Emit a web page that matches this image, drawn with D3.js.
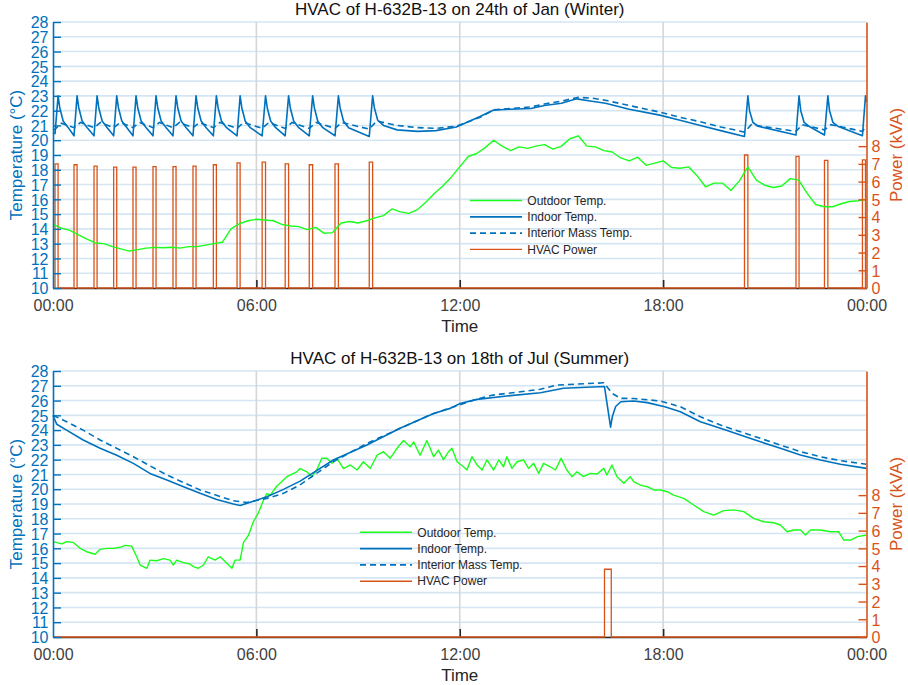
<!DOCTYPE html>
<html>
<head>
<meta charset="utf-8">
<script src="https://cdn.jsdelivr.net/npm/d3@7"></script>
<style>
  body { margin: 0; background: #fff; }
  svg { display: block; font-family: "Liberation Sans", Arial, Helvetica, sans-serif; }
</style>
</head>
<body>
<svg id="chart" width="908" height="685"></svg>
<script>
// ---- data (hours since midnight, °C / kVA) ----
const tempTicks = [10, 11, 12, 13, 14, 15, 16, 17, 18, 19, 20, 21, 22, 23, 24, 25, 26, 27, 28];
const powerTicks = [0, 1, 2, 3, 4, 5, 6, 7, 8];
const timeTicks = [0, 6, 12, 18, 24];
const timeLabels = ["00:00", "06:00", "12:00", "18:00", "00:00"];
const legendLabels = ["Outdoor Temp.", "Indoor Temp.", "Interior Mass Temp.", "HVAC Power"];

// winter day (24th of Jan)
const winterOutdoor = [
  [0, 14.3], [0.25, 14.05], [0.5, 13.9], [0.75, 13.6], [1, 13.3], [1.25, 13.05], [1.5, 13.0], [1.75, 12.8],
  [2, 12.65], [2.25, 12.5], [2.5, 12.6], [2.75, 12.7], [3, 12.75], [3.25, 12.72], [3.5, 12.76], [3.75, 12.7],
  [4, 12.8], [4.25, 12.8], [4.5, 12.9], [4.75, 13.0], [5, 13.1], [5.25, 14.0], [5.5, 14.35], [5.75, 14.55],
  [6, 14.65], [6.25, 14.6], [6.5, 14.55], [6.75, 14.3], [7, 14.2], [7.25, 14.15], [7.5, 13.95], [7.75, 14.1],
  [8, 13.7], [8.25, 13.75], [8.5, 14.4], [8.75, 14.5], [9, 14.4], [9.25, 14.55], [9.5, 14.75], [9.75, 14.9],
  [10, 15.35], [10.25, 15.15], [10.5, 15.05], [10.75, 15.3], [11, 15.8], [11.25, 16.4], [11.5, 16.9], [11.75, 17.5],
  [12, 18.2], [12.25, 18.9], [12.5, 19.1], [12.75, 19.5], [13, 20.0], [13.25, 19.6], [13.5, 19.3], [13.75, 19.55],
  [14, 19.45], [14.25, 19.6], [14.5, 19.7], [14.75, 19.4], [15, 19.6], [15.25, 20.1], [15.5, 20.3], [15.75, 19.6],
  [16, 19.55], [16.25, 19.3], [16.5, 19.2], [16.75, 18.8], [17, 18.6], [17.25, 18.85], [17.5, 18.3], [17.75, 18.45],
  [18, 18.6], [18.25, 18.15], [18.5, 18.1], [18.75, 18.2], [19, 17.6], [19.25, 16.85], [19.5, 17.1], [19.75, 17.1],
  [20, 16.6], [20.25, 17.25], [20.5, 18.2], [20.75, 17.3], [21, 16.95], [21.25, 16.8], [21.5, 16.9], [21.75, 17.4],
  [22, 17.3], [22.25, 16.4], [22.5, 15.65], [22.75, 15.5], [23, 15.5], [23.25, 15.7], [23.5, 15.85], [23.75, 15.9],
  [24, 16.0]
];
const winterIndoor = [
  [0, 20.5], [0.06, 20.45], [0.15, 23.0], [0.2, 22.2], [0.3, 21.3], [0.45, 20.85],
  [0.62, 20.3], [0.71, 23.0], [0.76, 22.2], [0.86, 21.3], [1.01, 20.85],
  [1.21, 20.3], [1.30, 23.0], [1.35, 22.2], [1.45, 21.3], [1.6, 20.85],
  [1.79, 20.3], [1.88, 23.0], [1.93, 22.2], [2.03, 21.3], [2.18, 20.85],
  [2.36, 20.3], [2.45, 23.0], [2.5, 22.2], [2.6, 21.3], [2.75, 20.85],
  [2.95, 20.3], [3.04, 23.0], [3.09, 22.2], [3.19, 21.3], [3.34, 20.85],
  [3.54, 20.3], [3.63, 23.0], [3.68, 22.2], [3.78, 21.3], [3.93, 20.85],
  [4.13, 20.3], [4.22, 23.0], [4.27, 22.2], [4.37, 21.3], [4.52, 20.85],
  [4.73, 20.3], [4.82, 23.0], [4.87, 22.2], [4.97, 21.3], [5.12, 20.85],
  [5.43, 20.3], [5.52, 23.0], [5.57, 22.2], [5.67, 21.3], [5.82, 20.85],
  [6.17, 20.3], [6.27, 23.0], [6.32, 22.2], [6.42, 21.3], [6.57, 20.85],
  [6.85, 20.3], [6.95, 23.0], [7.0, 22.2], [7.1, 21.3], [7.25, 20.85],
  [7.56, 20.3], [7.66, 23.0], [7.71, 22.2], [7.81, 21.3], [7.96, 20.85],
  [8.32, 20.3], [8.42, 23.0], [8.47, 22.2], [8.57, 21.3], [8.72, 20.85],
  [9.33, 20.25], [9.43, 23.0], [9.48, 22.2], [9.58, 21.35], [9.75, 21.0], [10.15, 20.7], [10.75, 20.6],
  [11.3, 20.65], [11.9, 20.9], [12.6, 21.6], [13.0, 22.05], [13.5, 22.1], [14.1, 22.15], [14.5, 22.35],
  [15.0, 22.5], [15.45, 22.8], [15.85, 22.65], [16.3, 22.5], [17.0, 22.1], [17.9, 21.7], [18.5, 21.35],
  [19.1, 21.0], [19.7, 20.65], [20.40, 20.25], [20.50, 23.0], [20.55, 22.0], [20.65, 21.2], [20.8, 20.95],
  [21.92, 20.35], [22.01, 23.0], [22.06, 22.0], [22.16, 21.2], [22.3, 20.95],
  [22.76, 20.35], [22.86, 23.0], [22.91, 22.0], [23.01, 21.2], [23.15, 20.95],
  [23.88, 20.3], [23.97, 23.0], [24, 22.6]
];
const winterMass = [
  [0, 20.7], [0.06, 20.75], [0.25, 21.15], [0.62, 20.85], [0.81, 21.2], [1.21, 20.85], [1.40, 21.2],
  [1.79, 20.85], [1.98, 21.2], [2.36, 20.85], [2.55, 21.2], [2.95, 20.85], [3.14, 21.2], [3.54, 20.85],
  [3.73, 21.2], [4.13, 20.85], [4.32, 21.2], [4.73, 20.85], [4.92, 21.2], [5.43, 20.8], [5.62, 21.2],
  [6.17, 20.8], [6.37, 21.2], [6.85, 20.8], [7.05, 21.2], [7.56, 20.8], [7.76, 21.2], [8.32, 20.8],
  [8.52, 21.2], [9.33, 20.75], [9.55, 21.3], [10.15, 21.0], [10.75, 20.85], [11.3, 20.8], [11.9, 20.95],
  [12.6, 21.55], [13.0, 22.05], [13.5, 22.15], [14.1, 22.25], [14.5, 22.45], [15.0, 22.65], [15.5, 22.9],
  [15.9, 22.85], [16.3, 22.7], [17.0, 22.35], [17.9, 21.9], [18.5, 21.55], [19.1, 21.25], [19.7, 20.9],
  [20.40, 20.55], [20.6, 21.05], [21.92, 20.6], [22.1, 21.05], [22.76, 20.7], [22.95, 21.05],
  [23.88, 20.6], [24, 20.95]
];
const winterHvacOn  = [0.06, 0.62, 1.21, 1.79, 2.36, 2.95, 3.54, 4.13, 4.73, 5.43, 6.17, 6.85, 7.56, 8.32, 9.33, 20.40, 21.92, 22.76, 23.88];
const winterHvacOff = [0.15, 0.71, 1.30, 1.88, 2.45, 3.04, 3.63, 4.22, 4.82, 5.52, 6.27, 6.95, 7.66, 8.42, 9.43, 20.50, 22.01, 22.86, 23.97];
const winterHvacKva = [7.0, 6.95, 6.87, 6.82, 6.82, 6.85, 6.85, 6.87, 6.95, 7.06, 7.1, 7.0, 6.95, 7.0, 7.1, 7.5, 7.42, 7.2, 7.23];

// summer day (18th of Jul)
const summerOutdoor = [
  [0, 16.45], [0.26, 16.3], [0.40, 16.45], [0.60, 16.4], [0.80, 16.0], [0.99, 15.77], [1.24, 15.6], [1.39, 15.93],
  [1.59, 16.0], [1.78, 16.0], [1.98, 16.07], [2.13, 16.2], [2.32, 16.15], [2.47, 15.43], [2.57, 14.87], [2.77, 14.65],
  [2.86, 15.2], [3.06, 15.16], [3.26, 15.3], [3.45, 15.2], [3.55, 14.87], [3.65, 15.2], [3.85, 15.03], [4.04, 14.94],
  [4.14, 14.76], [4.29, 14.65], [4.44, 14.87], [4.58, 15.43], [4.78, 15.2], [4.93, 15.43], [5.13, 14.99], [5.28, 14.65],
  [5.37, 15.2], [5.52, 15.2], [5.62, 16.4], [5.77, 16.9], [5.91, 17.8], [6.06, 18.4], [6.21, 19.27], [6.31, 19.7],
  [6.41, 19.6], [6.60, 20.2], [6.90, 20.85], [7.19, 21.18], [7.29, 21.4], [7.49, 21.18], [7.64, 20.85], [7.78, 21.3],
  [7.93, 22.1], [8.08, 22.1], [8.23, 21.75], [8.37, 22.1], [8.57, 21.4], [8.77, 21.64], [8.97, 21.3], [9.16, 21.86],
  [9.36, 21.4], [9.56, 22.3], [9.75, 22.54], [9.95, 22.1], [10.15, 22.77], [10.34, 23.3], [10.54, 22.88], [10.64, 23.2],
  [10.83, 22.3], [11.03, 23.3], [11.23, 22.2], [11.37, 22.65], [11.52, 22.0], [11.67, 22.54], [11.77, 22.77], [11.92, 21.86],
  [12.11, 21.52], [12.21, 21.3], [12.36, 22.2], [12.51, 21.64], [12.66, 21.3], [12.80, 21.98], [13.00, 21.3], [13.15, 21.98],
  [13.29, 21.52], [13.39, 22.2], [13.54, 21.41], [13.69, 21.86], [13.88, 21.98], [14.03, 21.41], [14.18, 21.75], [14.33, 21.07],
  [14.47, 21.75], [14.67, 21.52], [14.82, 21.3], [14.99, 22.09], [15.16, 21.3], [15.31, 20.85], [15.46, 21.18], [15.65, 20.85],
  [15.85, 21.07], [16.05, 21.03], [16.25, 21.41], [16.34, 20.96], [16.49, 21.64], [16.64, 20.85], [16.84, 20.4], [17.03, 20.85],
  [17.13, 20.51], [17.33, 20.28], [17.53, 20.17], [17.72, 19.95], [17.92, 19.95], [18.12, 19.83], [18.31, 19.6], [18.61, 19.38],
  [18.90, 18.93], [19.20, 18.48], [19.49, 18.25], [19.79, 18.55], [20.08, 18.6], [20.38, 18.48], [20.67, 18.03], [20.97, 17.8],
  [21.26, 17.73], [21.46, 17.58], [21.66, 17.12], [21.85, 17.24], [22.05, 17.24], [22.20, 16.9], [22.35, 17.24], [22.64, 17.24],
  [22.94, 17.12], [23.18, 17.12], [23.33, 16.56], [23.53, 16.56], [23.74, 16.79], [24, 16.9]
];
const summerIndoor = [
  [0, 25.0], [0.11, 24.4], [0.40, 24.0], [0.89, 23.33], [1.39, 22.77], [1.88, 22.3], [2.37, 21.75], [2.86, 21.07],
  [3.36, 20.62], [3.85, 20.17], [4.34, 19.72], [4.83, 19.31], [5.32, 19.0], [5.52, 18.9], [5.82, 19.12], [6.31, 19.49],
  [6.80, 19.99], [7.29, 20.55], [8.27, 21.98], [9.26, 22.99], [10.24, 24.12], [11.23, 25.13], [11.72, 25.47], [12.01, 25.8],
  [12.51, 26.08], [13.39, 26.31], [14.38, 26.53], [15.06, 26.83], [16.27, 26.95], [16.45, 24.2], [16.5, 24.9], [16.6, 25.6],
  [16.75, 25.92], [17.13, 25.97], [17.53, 25.86], [18.05, 25.58], [18.51, 25.24], [19.10, 24.57], [19.69, 24.12], [20.28, 23.67],
  [20.87, 23.21], [21.46, 22.77], [22.05, 22.31], [22.64, 21.98], [23.23, 21.69], [24, 21.41]
];
const summerMass = [
  [0, 25.0], [0.40, 24.57], [0.89, 24.0], [1.39, 23.33], [2.37, 22.2], [3.36, 20.96], [4.34, 19.95], [5.32, 19.22],
  [5.72, 19.1], [6.31, 19.38], [6.80, 19.72], [7.29, 20.3], [8.27, 21.86], [9.26, 23.1], [10.24, 24.12], [11.23, 25.13],
  [12.51, 26.1], [12.98, 26.37], [14.38, 26.76], [14.87, 27.05], [16.25, 27.2], [16.5, 26.48], [16.74, 26.15], [17.13, 26.14],
  [17.92, 25.97], [18.51, 25.58], [19.10, 24.9], [19.69, 24.34], [20.28, 23.89], [20.87, 23.44], [21.46, 22.99], [22.05, 22.54],
  [22.64, 22.2], [23.23, 21.93], [24, 21.69]
];
const summerHvacOn  = [16.27];
const summerHvacOff = [16.47];
const summerHvacKva = [3.82];

// ---- drawing ----
const BLUE = "#0072BD", ORANGE = "#D95319", GREEN = "#1aff1a", TXT = "#262626";
const svg = d3.select("#chart");
const L = 53, R = 866.5, H = 266;

const x = d3.scaleLinear().domain([0, 24]).range([L, R]);

function hvacSteps(on, off, kva) {
  const pts = [[0, 0]];
  on.forEach((t, i) => { pts.push([t, 0], [t, kva[i]], [off[i], kva[i]], [off[i], 0]); });
  pts.push([24, 0]);
  return pts;
}

function panel(top, title, outdoor, indoor, mass, power, legendAt) {
  const yT = d3.scaleLinear().domain([10, 28]).range([top + H, top]);
  const yP = d3.scaleLinear().domain([0, 15]).range([top + H, top]);
  const g = svg.append("g");

  // grid
  g.append("g").selectAll("line").data(tempTicks).join("line")
    .attr("x1", L).attr("x2", R).attr("y1", d => yT(d)).attr("y2", d => yT(d))
    .attr("stroke", "#d4e5f3").attr("stroke-width", 1.6);
  g.append("g").selectAll("line").data(timeTicks.slice(1, -1)).join("line")
    .attr("x1", d => x(d)).attr("x2", d => x(d)).attr("y1", top).attr("y2", top + H)
    .attr("stroke", "#d6d6d6").attr("stroke-width", 1.6);

  // x axis
  const xa = g.append("g").attr("transform", `translate(0,${top + H})`)
    .call(d3.axisBottom(x).tickValues(timeTicks).tickFormat((d, i) => timeLabels[i])
      .tickSizeInner(-8).tickSizeOuter(0))
    .attr("font-family", null).attr("font-size", 16);
  xa.select(".domain").attr("stroke", TXT).attr("stroke-width", 1.3);
  xa.selectAll(".tick line").attr("stroke", TXT).attr("stroke-width", 1.6)
    .filter((d, i) => i === 0 || i === timeTicks.length - 1).remove();
  xa.selectAll(".tick text").attr("y", 22.7).attr("dy", null).attr("fill", "#404040");

  const lineT = d3.line().x(d => x(d[0])).y(d => yT(d[1]));
  const lineP = d3.line().x(d => x(d[0])).y(d => yP(d[1]));

  g.append("path").attr("d", lineP(power)).attr("fill", "none")
    .attr("stroke", ORANGE).attr("stroke-width", 1.3);
  g.append("path").attr("d", lineT(outdoor)).attr("fill", "none")
    .attr("stroke", GREEN).attr("stroke-width", 1.4).attr("stroke-linejoin", "round");
  g.append("path").attr("d", lineT(indoor)).attr("fill", "none")
    .attr("stroke", BLUE).attr("stroke-width", 1.6).attr("stroke-linejoin", "round");
  g.append("path").attr("d", lineT(mass)).attr("fill", "none")
    .attr("stroke", BLUE).attr("stroke-width", 1.6).attr("stroke-dasharray", "6,4");

  // left axis
  const la = g.append("g").attr("transform", `translate(${L},0)`)
    .call(d3.axisLeft(yT).tickValues(tempTicks).tickFormat(d3.format("d"))
      .tickSizeInner(-8).tickSizeOuter(0).tickPadding(4.5))
    .attr("font-family", null).attr("font-size", 16);
  la.select(".domain").attr("stroke", BLUE).attr("stroke-width", 1.6);
  la.selectAll(".tick line").attr("stroke", BLUE).attr("stroke-width", 1.4);
  la.selectAll(".tick text").attr("fill", BLUE).attr("dy", "0.36em");

  // right axis
  const ra = g.append("g").attr("transform", `translate(${R},0)`)
    .call(d3.axisRight(yP).tickValues(powerTicks).tickFormat(d3.format("d"))
      .tickSizeInner(-8).tickSizeOuter(0).tickPadding(5))
    .attr("font-family", null).attr("font-size", 16);
  ra.select(".domain").attr("stroke", ORANGE).attr("stroke-width", 1.6);
  ra.selectAll(".tick line").attr("stroke", ORANGE).attr("stroke-width", 1.4);
  ra.selectAll(".tick text").attr("fill", ORANGE).attr("dy", "0.36em");

  // labels
  const mid = (L + R) / 2, cy = top + H / 2;
  g.append("text").attr("x", mid).attr("y", top - 7.5).attr("text-anchor", "middle")
    .attr("font-size", 17).attr("fill", "#111").text(title);
  g.append("text").attr("x", mid).attr("y", top + H + 43.7).attr("text-anchor", "middle")
    .attr("font-size", 17).attr("fill", TXT).text("Time");
  g.append("text").attr("transform", `translate(22,${cy}) rotate(-90)`).attr("text-anchor", "middle")
    .attr("font-size", 17).attr("fill", BLUE).text("Temperature (°C)");
  g.append("text").attr("transform", `translate(902,${cy}) rotate(-90)`).attr("text-anchor", "middle")
    .attr("font-size", 17).attr("fill", ORANGE).text("Power (kVA)");

  // legend
  const styles = [
    { c: GREEN, w: 1.6, dash: null },
    { c: BLUE, w: 1.8, dash: null },
    { c: BLUE, w: 1.8, dash: "6,4" },
    { c: ORANGE, w: 1.4, dash: null }
  ];
  const lg = g.append("g").attr("transform", `translate(${legendAt[0]},${legendAt[1]})`);
  const row = lg.selectAll("g").data(legendLabels).join("g")
    .attr("transform", (d, i) => `translate(0,${i * 16.3})`);
  row.append("line").attr("x1", 0).attr("x2", 52)
    .attr("stroke", (d, i) => styles[i].c).attr("stroke-width", (d, i) => styles[i].w)
    .attr("stroke-dasharray", (d, i) => styles[i].dash);
  row.append("text").attr("x", 57.3).attr("dy", "0.35em")
    .attr("font-size", 12).attr("fill", TXT).text(d => d);
}

panel(22, "HVAC of H-632B-13 on 24th of Jan (Winter)", winterOutdoor, winterIndoor, winterMass,
  hvacSteps(winterHvacOn, winterHvacOff, winterHvacKva), [470, 200.5]);
panel(371, "HVAC of H-632B-13 on 18th of Jul (Summer)", summerOutdoor, summerIndoor, summerMass,
  hvacSteps(summerHvacOn, summerHvacOff, summerHvacKva), [360, 532.3]);
</script>
</body>
</html>
